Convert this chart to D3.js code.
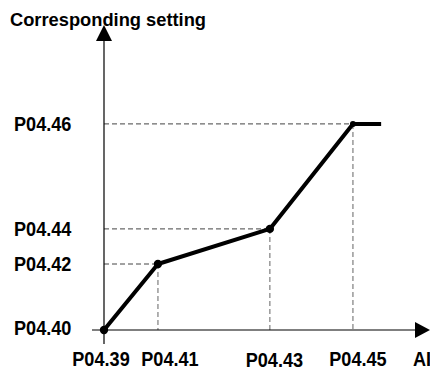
<!DOCTYPE html>
<html>
<head>
<meta charset="utf-8">
<script src="https://cdn.jsdelivr.net/npm/d3@7"></script>
<style>
  html, body { margin: 0; padding: 0; background: #fff; }
  svg { display: block; font-family: "Liberation Sans", Arial, sans-serif; font-weight: bold; }
</style>
</head>
<body>
<svg id="chart" width="430" height="372"></svg>
<script>
// input (AI) and setting values in arbitrary 0-100 units
const inputValues = [0, 17.4, 53.5, 80.3, 89.4];
const settingValues = [0, 22, 33.7, 68.7, 68.7];
const xTickLabels = ["P04.39", "P04.41", "P04.43", "P04.45"];
const yTickLabels = ["P04.40", "P04.42", "P04.44", "P04.46"];
const yTitle = "Corresponding setting";
const xTitle = "AI";

const svg = d3.select("#chart");
const x = d3.scaleLinear().domain([0, 100]).range([104, 414]);
const y = d3.scaleLinear().domain([0, 100]).range([330, 30]);

const pts = inputValues.map((v, i) => ({ x: v, y: settingValues[i] }));
const corners = pts.slice(0, 4);

// ── dashed guides ──
const guides = svg.append("g");
corners.slice(1).forEach((p) => {
  guides.append("line")
    .attr("x1", x(0)).attr("x2", x(p.x))
    .attr("y1", y(p.y)).attr("y2", y(p.y))
    .attr("stroke", "#444").attr("stroke-width", 1).attr("stroke-dasharray", "5,3");
  guides.append("line")
    .attr("x1", x(p.x)).attr("x2", x(p.x))
    .attr("y1", y(p.y)).attr("y2", y(0))
    .attr("stroke", "#888").attr("stroke-width", 1.3).attr("stroke-dasharray", "5,3");
});

// ── axes with arrowheads ──
svg.append("line")
  .attr("x1", 92).attr("x2", 418).attr("y1", y(0)).attr("y2", y(0))
  .attr("stroke", "#000").attr("stroke-width", 1.2);
svg.append("line")
  .attr("x1", x(0)).attr("x2", x(0)).attr("y1", 344).attr("y2", 36)
  .attr("stroke", "#000").attr("stroke-width", 1.2);
svg.append("path")
  .attr("d", `M430,${y(0)} L415,${y(0) - 8} L415,${y(0) + 8} Z`)
  .attr("fill", "#000");
svg.append("path")
  .attr("d", `M${x(0)},25 L${x(0) - 8},41 L${x(0) + 8},41 Z`)
  .attr("fill", "#000");

// ── curve ──
svg.append("path")
  .datum(pts)
  .attr("d", d3.line().x((d) => x(d.x)).y((d) => y(d.y)))
  .attr("fill", "none").attr("stroke", "#000")
  .attr("stroke-width", 4).attr("stroke-linejoin", "round");

svg.selectAll("circle.pt")
  .data(corners)
  .join("circle")
  .attr("class", "pt")
  .attr("cx", (d) => x(d.x)).attr("cy", (d) => y(d.y))
  .attr("r", (d, i) => (i === 3 ? 3 : 4.2))
  .attr("fill", "#000");

// ── labels (slightly condensed bold, like the original) ──
function label(sel, px, py, anchor) {
  sel.attr("transform", `translate(${px},${py}) scale(0.93,1)`)
    .attr("text-anchor", anchor)
    .attr("font-size", 19.5);
}

svg.append("text")
  .attr("x", 10).attr("y", 26)
  .attr("font-size", 18.3)
  .text(yTitle);

svg.selectAll("text.ytick")
  .data(corners)
  .join("text")
  .attr("class", "ytick")
  .each(function (d) { label(d3.select(this), 14, Math.min(y(d.y) + 7, 335), "start"); })
  .text((d, i) => yTickLabels[i]);

const xLabelShift = [-3, 12, 4.5, 5];
svg.selectAll("text.xtick")
  .data(corners)
  .join("text")
  .attr("class", "xtick")
  .each(function (d, i) {
    label(d3.select(this), x(d.x) + xLabelShift[i], i === 2 ? 367 : 366, "middle");
  })
  .text((d, i) => xTickLabels[i]);

label(svg.append("text"), 413, 366, "start");
svg.select("text:last-child").text(xTitle);
</script>
</body>
</html>
